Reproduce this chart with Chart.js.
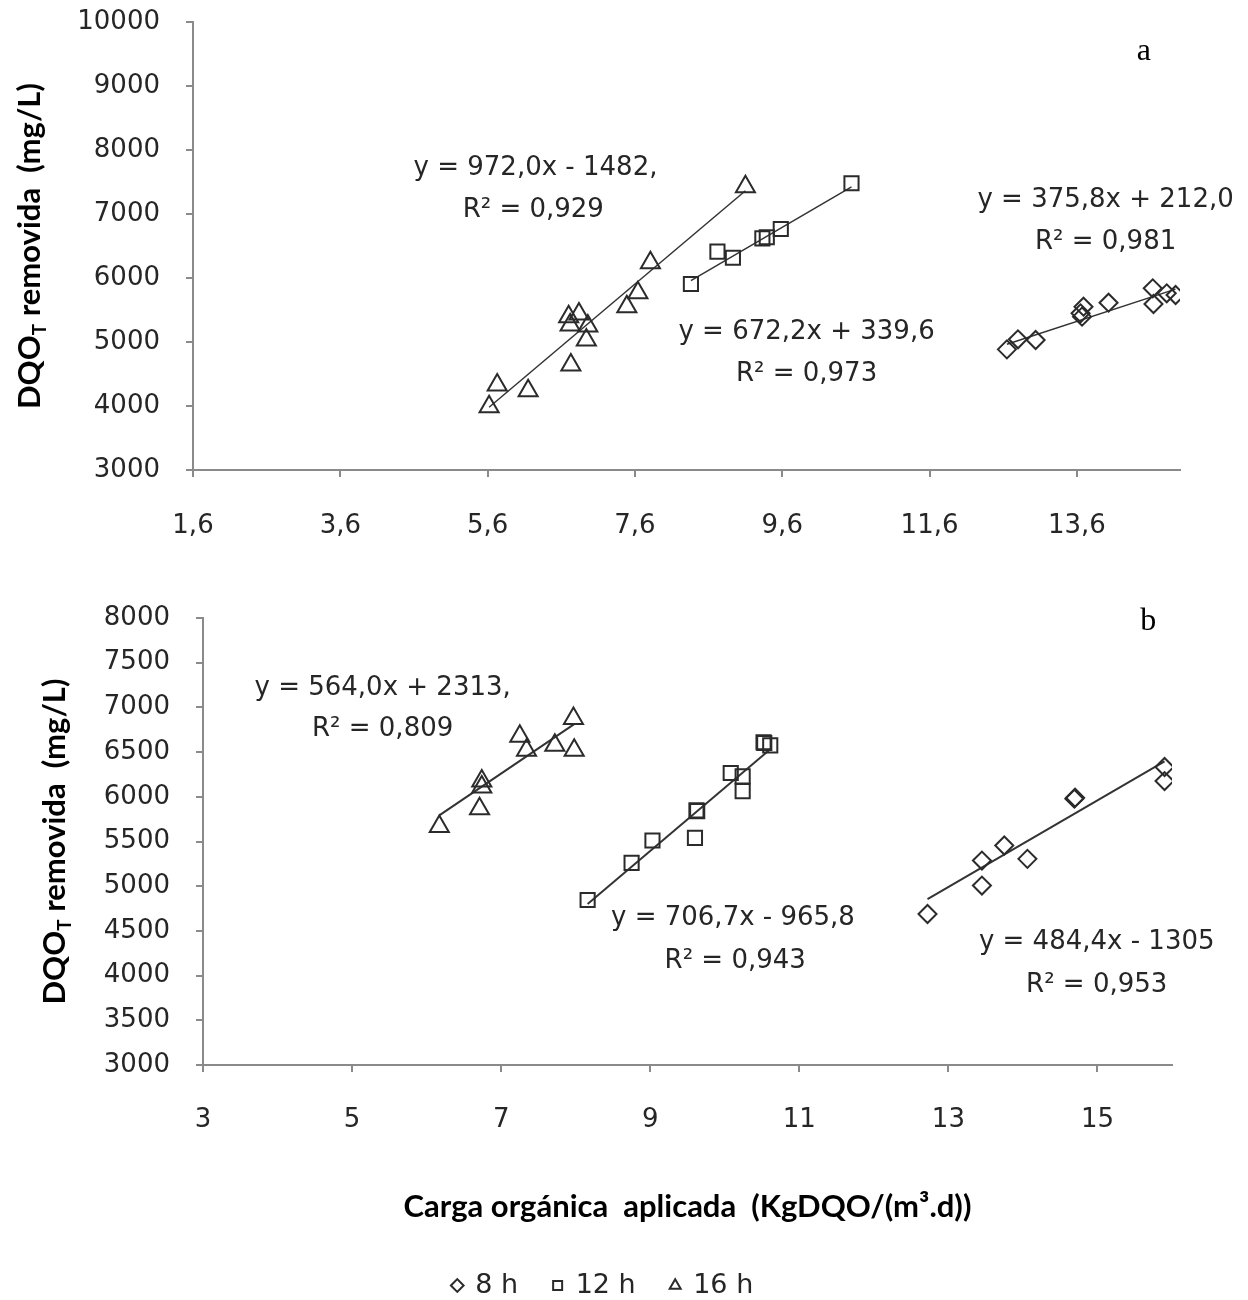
<!DOCTYPE html>
<html>
<head>
<meta charset="utf-8">
<script src="https://cdn.jsdelivr.net/npm/chart.js@4.4.1/dist/chart.umd.min.js"></script>
<style>
    html, body { margin: 0; padding: 0; background: #fff; overflow: hidden; }
    #boxA { position: absolute; left: 0; top: 0; width: 1248px; height: 560px; }
    #clipB { position: absolute; left: 0; top: 560px; width: 1248px; height: 740px; overflow: hidden; }
    #boxB { position: relative; width: 1248px; height: 770px; }
</style>
</head>
<body>
<div id="boxA"><canvas id="chartA"></canvas></div>
<div id="clipB"><div id="boxB"><canvas id="chartB"></canvas></div></div>
<script>
// series names and markers
const seriesNames = ['8 h', '12 h', '16 h'];

// ---- panel a ----
const xA8 = [12.65, 12.80, 13.04, 13.65, 13.67, 13.69, 14.03, 14.63, 14.64, 14.82, 14.94];
const yA8 = [4885, 5042, 5031, 5448, 5396, 5552, 5614, 5839, 5594, 5761, 5734];
const xA12 = [8.36, 8.72, 8.93, 9.33, 9.39, 9.58, 10.54];
const yA12 = [5906, 6411, 6317, 6620, 6636, 6766, 7480];
const xA16 = [5.62, 5.73, 6.15, 6.70, 6.72, 6.73, 6.84, 6.94, 6.96, 7.49, 7.64, 7.81, 9.10];
const yA16 = [3989, 4328, 4239, 5395, 5266, 4641, 5437, 5031, 5250, 5552, 5770, 6239, 7427];
// trend line coefficients (slope, intercept) as printed
const fitA8 = [375.8, 212.0];
const fitA12 = [672.2, 339.6];
const fitA16 = [972.0, -1482];
const xTicksA = [1.6, 3.6, 5.6, 7.6, 9.6, 11.6, 13.6];
const notesA = ['y = 972,0x - 1482,', 'R² = 0,929', 'y = 672,2x + 339,6', 'R² = 0,973', 'y = 375,8x + 212,0', 'R² = 0,981'];

// ---- panel b ----
const xB8 = [12.72, 13.45, 13.45, 13.75, 14.06, 14.69, 14.70, 15.90, 15.90];
const yB8 = [4689, 5007, 5287, 5455, 5306, 5979, 5990, 6333, 6176];
const xB12 = [8.16, 8.75, 9.03, 9.60, 9.62, 9.63, 10.08, 10.24, 10.24, 10.52, 10.53, 10.61];
const yB12 = [4846, 5261, 5511, 5541, 5848, 5840, 6266, 6229, 6064, 6610, 6602, 6576];
const xB16 = [6.17, 6.71, 6.74, 6.74, 7.25, 7.34, 7.72, 7.97, 7.98];
const yB16 = [5668, 5866, 6109, 6176, 6677, 6520, 6576, 6876, 6520];
const fitB8 = [484.4, -1305];
const fitB12 = [706.7, -965.8];
const fitB16 = [564.0, 2313];
const xTicksB = [3, 5, 7, 9, 11, 13, 15];
const notesB = ['y = 564,0x + 2313,', 'R² = 0,809', 'y = 706,7x - 965,8', 'R² = 0,943', 'y = 484,4x - 1305', 'R² = 0,953'];

const yTitleMain = 'DQO';
const yTitleSub = 'T';
const yTitleRest = ' removida  (mg/L)';
const xTitle = 'Carga orgánica  aplicada  (KgDQO/(m³.d))';

// where the equation labels sit, in data units
const notePosA = [[6.25, 7719], [6.22, 7063], [9.93, 5156], [9.93, 4500], [13.99, 7219], [13.99, 6563]];
const notePosB = [[5.41, 7215], [5.41, 6756], [10.11, 4637], [10.14, 4166], [14.99, 4368], [14.99, 3897]];

const markerStyles = ['rectRot', 'rect', 'triangle'];
const markerRadii = [9, 10, 11];
const ink = '#262626';
const numFont = '"DejaVu Sans", sans-serif';

Chart.defaults.font.family = numFont;
Chart.defaults.color = ink;
Chart.defaults.animation = false;

function pts(xs, ys) {
    return xs.map((x, i) => ({ x: x, y: ys[i] }));
}

function trend(xs, c) {
    const lo = Math.min(...xs), hi = Math.max(...xs);
    return [{ x: lo, y: c[0] * lo + c[1] }, { x: hi, y: c[0] * hi + c[1] }];
}

function buildDatasets(xs, ys, fits, lineWidth) {
    const sets = [];
    for (let i = 0; i < 3; i++) {
        sets.push({
            label: seriesNames[i],
            data: pts(xs[i], ys[i]),
            showLine: false,
            pointStyle: markerStyles[i],
            pointRadius: markerRadii[i],
            pointBorderWidth: 2,
            pointBorderColor: '#2b2b2b',
            pointBackgroundColor: 'rgba(255,255,255,0)',
            borderColor: '#2b2b2b',
            backgroundColor: 'rgba(255,255,255,0)'
        });
    }
    for (let i = 0; i < 3; i++) {
        sets.push({
            label: 'trend',
            data: trend(xs[i], fits[i]),
            showLine: true,
            borderColor: '#333333',
            borderWidth: lineWidth,
            pointRadius: 0,
            fill: false
        });
    }
    return sets;
}

// axis title with subscript, equations, panel letter
const decor = {
    id: 'decor',
    afterDraw(chart, args, opts) {
        const { ctx, chartArea, scales } = chart;
        ctx.save();
        ctx.fillStyle = '#000';
        ctx.translate(opts.titleX, (chartArea.top + chartArea.bottom) / 2);
        ctx.rotate(-Math.PI / 2);
        const big = 'bold 31px Lato', small = 'bold 19px Lato';
        ctx.font = big;
        const w1 = ctx.measureText(yTitleMain).width;
        const w3 = ctx.measureText(yTitleRest).width;
        ctx.font = small;
        const w2 = ctx.measureText(yTitleSub).width;
        let x = -(w1 + w2 + w3) / 2;
        ctx.textBaseline = 'alphabetic';
        ctx.font = big;
        ctx.fillText(yTitleMain, x, 10);
        x += w1;
        ctx.font = small;
        ctx.fillText(yTitleSub, x, 16);
        x += w2;
        ctx.font = big;
        ctx.fillText(yTitleRest, x, 10);
        ctx.restore();

        ctx.save();
        ctx.fillStyle = ink;
        ctx.textAlign = 'center';
        ctx.textBaseline = 'middle';
        ctx.font = '26px ' + numFont;
        opts.notes.forEach((t, i) => {
            const p = opts.notePos[i];
            ctx.fillText(t, scales.x.getPixelForValue(p[0]), scales.y.getPixelForValue(p[1]));
        });
        ctx.font = '32px "Liberation Serif"';
        ctx.fillStyle = '#000';
        ctx.fillText(opts.letter, scales.x.getPixelForValue(opts.letterPos[0]), scales.y.getPixelForValue(opts.letterPos[1]));
        ctx.restore();
    }
};

function axisStyle() {
    return {
        grid: { display: true, drawOnChartArea: false, drawTicks: true, tickLength: 7, color: '#8a8a8a', lineWidth: 2 },
        border: { display: true, color: '#8a8a8a', width: 2 }
    };
}

function initChartA() {
    const ctx = document.getElementById('chartA');
    new Chart(ctx, {
        type: 'scatter',
        data: {
            datasets: buildDatasets([xA8, xA12, xA16], [yA8, yA12, yA16], [fitA8, fitA12, fitA16], 1.5)
        },
        options: {
            responsive: true,
            maintainAspectRatio: false,
            events: [],
            layout: { padding: { top: 22, right: 68, bottom: 0, left: 0 } },
            plugins: {
                legend: { display: false },
                tooltip: { enabled: false },
                decor: { titleX: 30, notes: notesA, notePos: notePosA, letter: 'a', letterPos: [14.51, 9531] }
            },
            scales: {
                x: Object.assign(axisStyle(), {
                    type: 'linear',
                    min: 1.6,
                    max: 15,
                    afterBuildTicks: s => { s.ticks = xTicksA.map(v => ({ value: v })); },
                    afterFit: s => { s.height = 90; },
                    ticks: {
                        autoSkip: false,
                        maxRotation: 0,
                        padding: 34,
                        font: { size: 26 },
                        callback: v => v.toFixed(1).replace('.', ',')
                    }
                }),
                y: Object.assign(axisStyle(), {
                    type: 'linear',
                    min: 3000,
                    max: 10000,
                    afterFit: s => { s.width = 193; s.paddingTop = 10; s.paddingBottom = 10; },
                    ticks: {
                        stepSize: 1000,
                        padding: 26,
                        font: { size: 26 },
                        callback: v => String(v)
                    }
                })
            }
        },
        plugins: [decor]
    });
}

function initChartB() {
    const ctx = document.getElementById('chartB');
    new Chart(ctx, {
        type: 'scatter',
        data: {
            datasets: buildDatasets([xB8, xB12, xB16], [yB8, yB12, yB16], [fitB8, fitB12, fitB16], 2)
        },
        options: {
            responsive: true,
            maintainAspectRatio: false,
            events: [],
            layout: { padding: { top: 58, right: 42, bottom: 21, left: 0 } },
            plugins: {
                legend: {
                    display: true,
                    position: 'bottom',
                    labels: {
                        usePointStyle: true,
                        boxWidth: 9,
                        boxHeight: 9,
                        padding: 35,
                        color: ink,
                        font: { size: 27 },
                        filter: item => item.datasetIndex < 3
                    }
                },
                tooltip: { enabled: false },
                decor: { titleX: 55, notes: notesB, notePos: notePosB, letter: 'b', letterPos: [15.68, 7955] }
            },
            scales: {
                x: Object.assign(axisStyle(), {
                    type: 'linear',
                    min: 3,
                    max: 16,
                    afterBuildTicks: s => { s.ticks = xTicksB.map(v => ({ value: v })); },
                    afterFit: s => { s.height = 172; },
                    title: {
                        display: true,
                        text: xTitle,
                        color: '#000',
                        font: { family: 'Lato', size: 31, weight: 'bold' },
                        padding: { top: 0, bottom: 11 }
                    },
                    ticks: {
                        autoSkip: false,
                        maxRotation: 0,
                        padding: 33,
                        font: { size: 26 },
                        callback: v => String(v)
                    }
                }),
                y: Object.assign(axisStyle(), {
                    type: 'linear',
                    min: 3000,
                    max: 8000,
                    afterFit: s => { s.width = 203; },
                    ticks: {
                        stepSize: 500,
                        padding: 26,
                        font: { size: 26 },
                        callback: v => String(v)
                    }
                }),
                // empty right-hand spacer so the legend centres like the original
                spacer: {
                    type: 'linear',
                    position: 'right',
                    display: true,
                    grid: { display: false },
                    border: { display: false },
                    ticks: { display: false },
                    afterFit: s => { s.width = 34; }
                }
            }
        },
        plugins: [decor]
    });
}

document.addEventListener('DOMContentLoaded', function() {
    initChartA();
    initChartB();
});
</script>
</body>
</html>
